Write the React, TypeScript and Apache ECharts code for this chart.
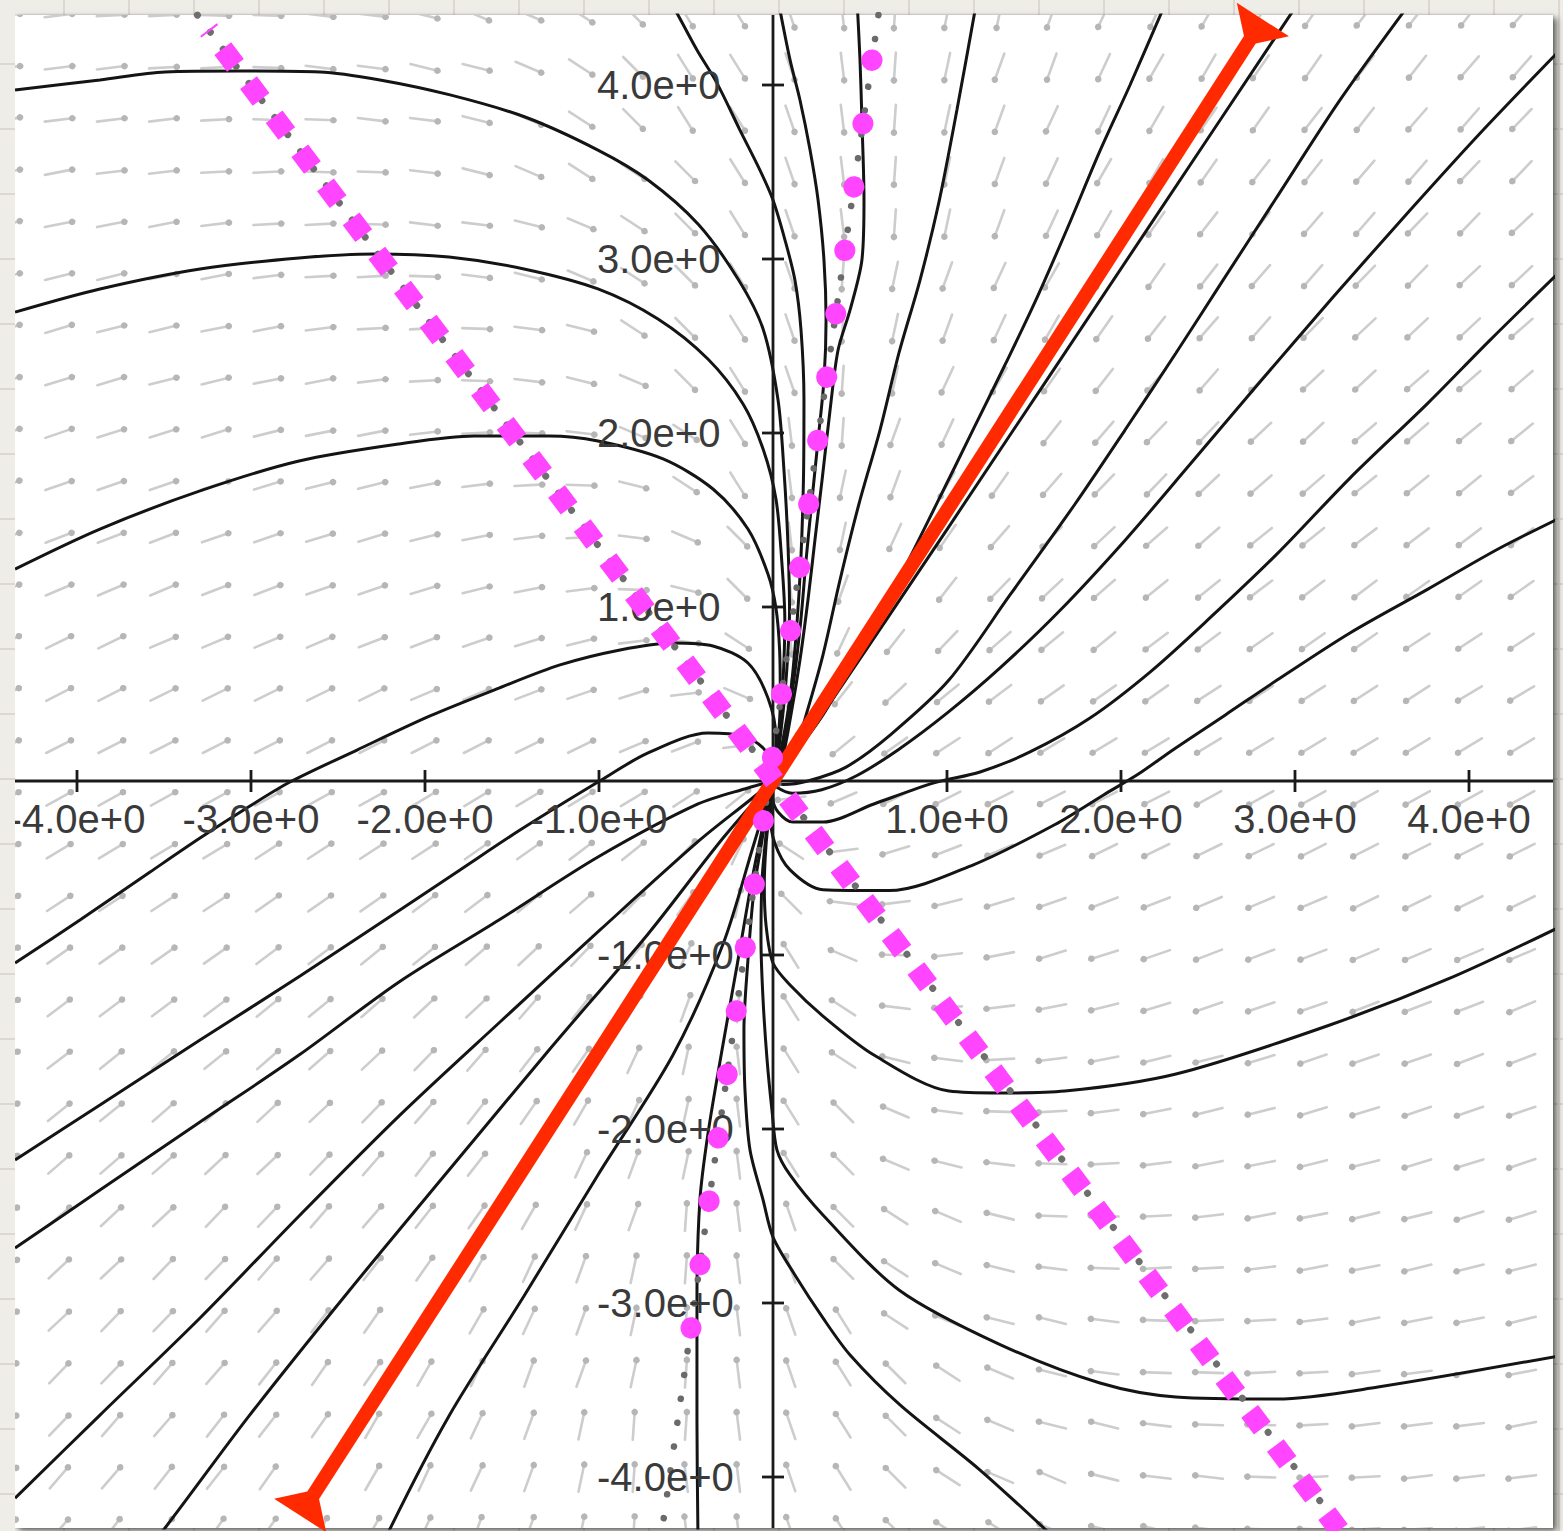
import React, { useEffect, useRef } from "react";
import * as echarts from "echarts";

type Pt = [number, number];

// ---- axes ----
const X_MIN = -4.3563;
const X_MAX = 4.4828;
const Y_MIN = -4.2931;
const Y_MAX = 4.4023;
const TICK_VALUES = [-4, -3, -2, -1, 1, 2, 3, 4];

// ---- direction field grid ----
const ARROW_XS = [-4.4, -4.1, -3.8, -3.5, -3.2, -2.9, -2.6, -2.3, -2.0, -1.7, -1.4, -1.1, -0.8, -0.5, -0.2, 0.1, 0.4, 0.7, 1.0, 1.3, 1.6, 1.9, 2.2, 2.5, 2.8, 3.1, 3.4, 3.7, 4.0, 4.3];
const ARROW_YS = [-4.3, -4.0, -3.7, -3.4, -3.1, -2.8, -2.5, -2.2, -1.9, -1.6, -1.3, -1.0, -0.7, -0.4, -0.1, 0.2, 0.5, 0.8, 1.1, 1.4, 1.7, 2.0, 2.3, 2.6, 2.9, 3.2, 3.5, 3.8, 4.1, 4.4];
// arrow direction (deg) read per ray direction (every 5 deg from +x axis)
const ARROW_DIR_BY_RAY = [209, 211, 213, 215, 217, 219, 221, 223, 226, 229, 232, 235, 240, 245, 250, 258, 266, 277, 289, 302, 315, 327, 337, 346, 353, 358, 3, 7, 11, 14, 17, 19, 21, 23, 26, 27, 29, 31, 33, 35, 37, 39, 41, 43, 46, 49, 52, 55, 60, 65, 70, 78, 86, 97, 109, 122, 135, 147, 157, 166, 173, 178, 183, 187, 191, 194, 197, 199, 201, 203, 206, 207];

// ---- trajectories ----
const U0: Pt[] = [[-0.592, 4.489], [-0.552, 4.414], [-0.437, 4.201], [-0.322, 4.011], [-0.19, 3.741], [-0.075, 3.511], [0, 3.339], [0.069, 3.109], [0.126, 2.879], [0.161, 2.592], [0.178, 2.19], [0.175, 1.73], [0.16, 1.27], [0.135, 0.868], [0.1, 0.5], [0.05, 0.2], [0, 0]];
const U1: Pt[] = [[-4.356, 3.971], [-3.868, 4.029], [-3.494, 4.075], [-3.063, 4.08], [-2.603, 4.075], [-2.259, 4.029], [-1.856, 3.943], [-1.425, 3.816], [-1.006, 3.626], [-0.718, 3.454], [-0.431, 3.201], [-0.201, 2.885], [-0.057, 2.598], [0.029, 2.19], [0.063, 1.787], [0.085, 1.385], [0.095, 0.983], [0.075, 0.58], [0.04, 0.236], [0.011, 0.034], [0, 0]];
const U2: Pt[] = [[-4.356, 2.695], [-3.868, 2.828], [-3.293, 2.943], [-2.724, 3.006], [-2.293, 3.029], [-1.862, 3.011], [-1.431, 2.943], [-1.006, 2.828], [-0.661, 2.655], [-0.374, 2.425], [-0.172, 2.167], [-0.057, 1.908], [0.017, 1.621], [0.05, 1.27], [0.068, 0.925], [0.058, 0.58], [0.035, 0.264], [0.01, 0.05], [0, 0]];
const U3: Pt[] = [[-4.356, 1.218], [-3.868, 1.448], [-3.293, 1.667], [-2.724, 1.839], [-2.149, 1.937], [-1.718, 1.983], [-1.287, 1.983], [-1.006, 1.954], [-0.632, 1.851], [-0.345, 1.678], [-0.144, 1.448], [-0.029, 1.19], [0.017, 0.994], [0.038, 0.753], [0.042, 0.466], [0.028, 0.207], [0.008, 0.034], [0, 0]];
const U4: Pt[] = [[-4.356, -1.046], [-3.983, -0.799], [-3.58, -0.523], [-3.293, -0.328], [-3.006, -0.144], [-2.776, -0.006], [-2.391, 0.178], [-1.971, 0.374], [-1.575, 0.534], [-1.224, 0.667], [-0.879, 0.753], [-0.575, 0.793], [-0.345, 0.776], [-0.144, 0.678], [-0.029, 0.477], [0.017, 0.247], [0.012, 0.092], [0, 0]];
const U5: Pt[] = [[-4.356, -2.178], [-3.868, -1.862], [-3.293, -1.489], [-2.718, -1.121], [-2.144, -0.741], [-1.799, -0.511], [-1.454, -0.282], [-1.006, -0.006], [-0.718, 0.161], [-0.374, 0.276], [-0.172, 0.259], [-0.057, 0.19], [0.005, 0.075], [0, 0]];
const LB: Pt[] = [[-4.356, -2.684], [-3.868, -2.351], [-3.293, -1.96], [-2.724, -1.575], [-2.149, -1.155], [-1.575, -0.799], [-1.006, -0.437], [-0.431, -0.132], [-0.144, -0.04], [0, 0]];
const LC: Pt[] = [[-4.356, -4.121], [-3.868, -3.644], [-3.293, -3.086], [-2.718, -2.494], [-2.144, -1.92], [-1.569, -1.385], [-0.994, -0.856], [-0.42, -0.339], [-0.132, -0.109], [0, 0]];
const LD: Pt[] = [[-3.58, -4.39], [-3.494, -4.293], [-3.011, -3.649], [-2.437, -2.931], [-1.862, -2.236], [-1.287, -1.546], [-0.718, -0.879], [-0.287, -0.328], [0, 0]];
const LE: Pt[] = [[-2.23, -4.4], [-2.207, -4.31], [-1.862, -3.649], [-1.431, -2.96], [-1.006, -2.264], [-0.575, -1.575], [-0.287, -0.937], [-0.115, -0.379], [0, 0]];
const LF: Pt[] = [[-0.431, -4.362], [-0.437, -3.672], [-0.437, -2.983], [-0.42, -2.408], [-0.374, -2.029], [-0.293, -1.546], [-0.201, -1.029], [-0.121, -0.569], [-0.063, -0.282], [-0.017, -0.08], [0, 0]];
const RE: Pt[] = [[1.661, -4.391], [1.19, -3.96], [0.73, -3.586], [0.443, -3.299], [0.287, -3.086], [0.126, -2.839], [0, -2.621], [-0.057, -2.408], [-0.132, -2.121], [-0.161, -1.776], [-0.167, -1.431], [-0.144, -1.029], [-0.109, -0.626], [-0.063, -0.339], [-0.029, -0.138], [0, 0]];
const RD: Pt[] = [[4.58, -3.293], [3.477, -3.483], [2.897, -3.552], [2.316, -3.54], [1.879, -3.46], [1.299, -3.236], [0.724, -2.925], [0.287, -2.494], [0.098, -2.264], [0.023, -2.121], [-0.006, -1.891], [-0.034, -1.603], [-0.057, -1.259], [-0.069, -0.914], [-0.063, -0.569], [-0.04, -0.31], [-0.017, -0.109], [0, 0]];
const RC: Pt[] = [[4.58, -0.81], [3.908, -1.126], [3.184, -1.408], [2.316, -1.684], [1.678, -1.782], [1.305, -1.793], [1.011, -1.782], [0.58, -1.575], [0.287, -1.351], [0.098, -1.172], [0, -1.046], [-0.04, -0.828], [-0.05, -0.598], [-0.04, -0.368], [-0.02, -0.178], [-0.008, -0.08], [0, 0]];
const T9: Pt[] = [[4.58, 1.54], [4.178, 1.339], [3.764, 1.103], [3.316, 0.851], [2.897, 0.58], [2.6, 0.38], [2.3, 0.18], [2.1, 0.04], [1.9, -0.08], [1.621, -0.25], [1.155, -0.48], [0.667, -0.63], [0.287, -0.625], [0.098, -0.511], [0.01, -0.356], [-0.015, -0.195], [-0.008, -0.08], [0, 0]];
const T8: Pt[] = [[4.58, 2.983], [4.121, 2.534], [3.764, 2.172], [3.316, 1.741], [2.897, 1.305], [2.511, 0.937], [2.167, 0.626], [1.822, 0.362], [1.477, 0.167], [1.19, 0.052], [0.925, -0.011], [0.58, -0.132], [0.287, -0.236], [0.115, -0.236], [0.029, -0.178], [0, -0.098], [0, 0]];
const T7: Pt[] = [[4.58, 4.26], [4.08, 3.74], [3.661, 3.28], [3.218, 2.78], [2.753, 2.24], [2.397, 1.82], [2.029, 1.39], [1.649, 0.98], [1.305, 0.65], [1.0, 0.39], [0.72, 0.18], [0.48, 0.03], [0.28, -0.05], [0.11, -0.07], [0.02, -0.035], [0, 0]];
const T6: Pt[] = [[3.632, 4.431], [3.259, 3.914], [2.885, 3.339], [2.569, 2.851], [2.316, 2.46], [2.023, 2.017], [1.736, 1.592], [1.362, 1.069], [1.011, 0.58], [0.68, 0.27], [0.42, 0.08], [0.2, 0.0], [0.06, -0.02], [0, 0]];
const T5: Pt[] = [[3.011, 4.46], [2.167, 3.195], [1.017, 1.471], [0.27, 0.362], [0.069, 0.075], [0, 0]];
const T4: Pt[] = [[2.264, 4.489], [2.052, 4.0], [1.879, 3.621], [1.695, 3.184], [1.506, 2.753], [1.333, 2.391], [1.155, 2.029], [0.943, 1.598], [0.724, 1.161], [0.5, 0.753], [0.3, 0.4], [0.15, 0.19], [0.06, 0.08], [0, 0]];
const T3: Pt[] = [[1.172, 4.489], [1.057, 3.856], [0.954, 3.328], [0.845, 2.879], [0.724, 2.46], [0.615, 2.017], [0.494, 1.592], [0.385, 1.155], [0.287, 0.724], [0.19, 0.379], [0.115, 0.144], [0, 0]];
const T2: Pt[] = [[0.483, 4.489], [0.5, 4.144], [0.511, 3.799], [0.523, 3.339], [0.511, 2.994], [0.443, 2.707], [0.374, 2.477], [0.328, 2.132], [0.282, 1.73], [0.241, 1.385], [0.201, 1.04], [0.155, 0.695], [0.103, 0.379], [0.052, 0.121], [0, 0]];
const T1: Pt[] = [[0.029, 4.489], [0.098, 4.144], [0.155, 3.914], [0.213, 3.626], [0.259, 3.339], [0.293, 2.994], [0.305, 2.649], [0.293, 2.305], [0.259, 1.96], [0.224, 1.615], [0.19, 1.27], [0.16, 0.925], [0.12, 0.58], [0.07, 0.264], [0.029, 0.075], [0, 0]];

const TRAJECTORIES: Pt[][] = [U0, U1, U2, U3, U4, U5, LB, LC, LD, LE, LF, RE, RD, RC, T9, T8, T7, T6, T5, T4, T3, T2, T1];

// ---- overlays ----
const Y_NULLCLINE_DOTTED: Pt[] = [[-3.308, 4.402], [3.261, -4.293]];
const SQUARES_LINE: Pt[] = [[-3.244, 4.318], [3.255, -4.307]];
const X_NULLCLINE_DOTTED: Pt[] = [[0.606, 4.402], [-0.636, -4.293]];
const CIRCLES_LINE: Pt[] = [[0.569, 4.144], [-0.523, -3.506]];
const RED_LINE: Pt[] = [[-2.649, -4.115], [2.747, 4.27]];

const MAGENTA = "#ff45ff";
const RED = "#ff2a00";
const FONT_FAMILY = '"Liberation Sans", Arial, Helvetica, sans-serif';

function buildArrowData(): number[][] {
  const out: number[][] = [];
  for (const x of ARROW_XS) {
    for (const y of ARROW_YS) {
      let ray = (Math.atan2(y, x) * 180) / Math.PI;
      if (ray < 0) ray += 360;
      const idx = Math.round(ray / 5) % 72;
      out.push([x, y, ARROW_DIR_BY_RAY[idx]]);
    }
  }
  return out;
}

const fmt = (v: number) => {
  if (Math.abs(v) < 1e-9) return "";
  if (Math.abs(v - Math.round(v)) > 1e-6) return "";
  return v.toExponential(1);
};

function buildOption(): any {
  const arrowData = buildArrowData();
  const tickData: number[][] = [
    ...TICK_VALUES.map((v) => [v, 0, 0]),
    ...TICK_VALUES.map((v) => [0, v, 1]),
  ];
  const series: any[] = [];
  series.push({
    type: "custom",
    data: arrowData,
    z: 1,
    clip: true,
    silent: true,
    renderItem: (_p: any, api: any) => {
      const c = api.coord([api.value(0), api.value(1)]);
      const a = (api.value(2) * Math.PI) / 180;
      const dx = Math.cos(a) * 15;
      const dy = -Math.sin(a) * 15;
      return {
        type: "group",
        children: [
          {
            type: "line",
            shape: { x1: c[0] - dx, y1: c[1] - dy, x2: c[0] + dx, y2: c[1] + dy },
            style: { stroke: "#cdcdcd", lineWidth: 2.6, lineCap: "round" },
          },
          {
            type: "circle",
            shape: { cx: c[0] + dx * 0.85, cy: c[1] + dy * 0.85, r: 3.3 },
            style: { fill: "#b6b6b6" },
          },
        ],
      };
    },
  });
  TRAJECTORIES.forEach((t) => {
    series.push({
      type: "line",
      data: t,
      symbol: "none",
      smooth: 0.3,
      clip: true,
      silent: true,
      z: 2,
      lineStyle: { color: "#141414", width: 3 },
    });
  });
  // axis lines at zero
  series.push({
    type: "custom",
    data: [[0, 0]],
    z: 3,
    silent: true,
    clip: true,
    renderItem: (_p: any, api: any) => {
      const o = api.coord([0, 0]);
      const l = api.coord([X_MIN, 0]);
      const r = api.coord([X_MAX, 0]);
      const t = api.coord([0, Y_MAX]);
      const b = api.coord([0, Y_MIN]);
      return {
        type: "group",
        children: [
          { type: "line", shape: { x1: l[0], y1: o[1], x2: r[0], y2: o[1] }, style: { stroke: "#1a1a1a", lineWidth: 2.8 } },
          { type: "line", shape: { x1: o[0], y1: t[1], x2: o[0], y2: b[1] }, style: { stroke: "#1a1a1a", lineWidth: 2.8 } },
        ],
      };
    },
  });
  // ticks
  series.push({
    type: "custom",
    data: tickData,
    z: 3,
    silent: true,
    renderItem: (_p: any, api: any) => {
      const c = api.coord([api.value(0), api.value(1)]);
      const vertical = api.value(2) === 0;
      return {
        type: "line",
        shape: vertical
          ? { x1: c[0], y1: c[1] - 11, x2: c[0], y2: c[1] + 11 }
          : { x1: c[0] - 11, y1: c[1], x2: c[0] + 11, y2: c[1] },
        style: { stroke: "#1a1a1a", lineWidth: 2.8 },
      };
    },
  });
  // tick labels
  series.push({
    type: "custom",
    data: tickData,
    z: 4,
    silent: true,
    clip: false,
    renderItem: (_p: any, api: any) => {
      const xv = api.value(0);
      const yv = api.value(1);
      const c = api.coord([xv, yv]);
      const isX = api.value(2) === 0;
      return {
        type: "text",
        x: isX ? c[0] : c[0] - 176,
        y: isX ? c[1] + 18 : c[1],
        style: {
          text: fmt(isX ? xv : yv),
          fill: "#3a3a3a",
          fontSize: 40,
          fontFamily: FONT_FAMILY,
          align: isX ? "center" : "left",
          verticalAlign: isX ? "top" : "middle",
        },
      };
    },
  });
  series.push({
    type: "line",
    data: Y_NULLCLINE_DOTTED,
    symbol: "none",
    silent: true,
    z: 3,
    lineStyle: { color: "#6e6e6e", width: 7, type: [0.1, 21.3], cap: "round" },
  });
  series.push({
    type: "line",
    data: X_NULLCLINE_DOTTED,
    symbol: "none",
    silent: true,
    z: 3,
    lineStyle: { color: "#6a6a6a", width: 6.5, type: [0.1, 24], cap: "round" },
  });
  series.push({
    type: "line",
    data: RED_LINE,
    symbol: "none",
    silent: true,
    clip: false,
    z: 5,
    lineStyle: { color: RED, width: 14, cap: "butt" },
  });
  series.push({
    type: "custom",
    data: [RED_LINE[0], RED_LINE[1]],
    z: 5,
    clip: false,
    silent: true,
    renderItem: (_p: any, api: any) => {
      const j = api.coord([api.value(0), api.value(1)]);
      const o = api.coord([0, 0]);
      let dx = j[0] - o[0];
      let dy = j[1] - o[1];
      const L = Math.hypot(dx, dy);
      dx /= L;
      dy /= L;
      const nx = -dy;
      const ny = dx;
      const pts = [
        [j[0] - 7 * nx - 2 * dx, j[1] - 7 * ny - 2 * dy],
        [j[0] + 22 * dx - 31 * nx, j[1] + 22 * dy - 31 * ny],
        [j[0] + 22 * dx + 31 * nx, j[1] + 22 * dy + 31 * ny],
        [j[0] + 7 * nx - 2 * dx, j[1] + 7 * ny - 2 * dy],
      ];
      return { type: "polygon", shape: { points: pts }, style: { fill: RED } };
    },
  });
  series.push({
    type: "line",
    data: SQUARES_LINE,
    symbol: "none",
    silent: true,
    z: 6,
    lineStyle: { color: MAGENTA, width: 21, type: [21, 21.66], dashOffset: 19.06, cap: "butt" },
  });
  series.push({
    type: "line",
    data: CIRCLES_LINE,
    symbol: "none",
    silent: true,
    z: 6,
    lineStyle: { color: MAGENTA, width: 21, type: [0.5, 63.53], cap: "round" },
  });

  const hiddenAxis = {
    type: "value",
    axisLine: { show: false },
    axisTick: { show: false },
    splitLine: { show: false },
    axisLabel: { show: false },
  };

  return {
    animation: false,
    backgroundColor: "transparent",
    grid: {
      left: 15,
      top: 15,
      width: 1538,
      height: 1513,
      containLabel: false,
      outerBoundsMode: "none",
      show: false,
    },
    xAxis: { ...hiddenAxis, min: X_MIN, max: X_MAX },
    yAxis: { ...hiddenAxis, min: Y_MIN, max: Y_MAX },
    series,
  };
}

const PAPER: React.CSSProperties = {
  backgroundColor: "#efede8",
  backgroundImage:
    "repeating-linear-gradient(to right, transparent 0px, transparent 63px, #dcd8d0 63px, #dcd8d0 65px), repeating-linear-gradient(to bottom, transparent 0px, transparent 63px, #dcd8d0 63px, #dcd8d0 65px)",
};

export default function App() {
  const ref = useRef<HTMLDivElement>(null);
  useEffect(() => {
    if (!ref.current) return;
    const chart = echarts.init(ref.current, null, { renderer: "svg" });
    chart.setOption(buildOption());
    return () => chart.dispose();
  }, []);
  return (
    <div style={{ position: "absolute", left: 0, top: 0, width: 1563, height: 1531, overflow: "hidden", ...PAPER }}>
      <div
        style={{
          position: "absolute",
          left: 15,
          top: 15,
          width: 1538,
          height: 1513,
          background: "#ffffff",
          boxShadow: "4px 3px 6px rgba(0,0,0,0.55), 0 0 2px rgba(0,0,0,0.25)",
        }}
      />
      <div ref={ref} style={{ position: "absolute", left: 0, top: 0, width: 1563, height: 1531 }} />
      <div style={{ position: "absolute", left: 0, top: 0, width: 15, height: 1531, ...PAPER }} />
    </div>
  );
}
